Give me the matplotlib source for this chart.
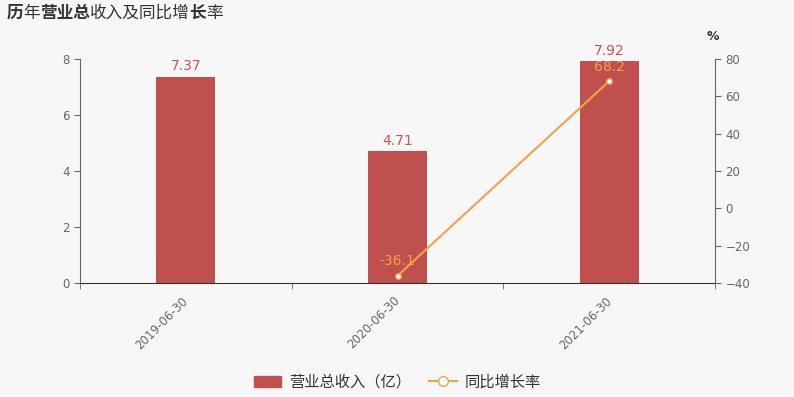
import matplotlib.pyplot as plt
import numpy as np
from matplotlib.patches import Patch
from matplotlib.lines import Line2D

plt.rcParams['font.family'] = ['Noto Sans CJK SC', 'DejaVu Sans']

dates = ['2019-06-30', '2020-06-30', '2021-06-30']
revenue = [7.37, 4.71, 7.92]
growth = [None, -36.1, 68.2]

bar_color = '#c0504d'
line_color = '#f5a04a'
bg = '#f7f7f7'
grey = '#666666'
num_font = 'DejaVu Sans'

fig = plt.figure(figsize=(7.94, 3.97), dpi=100, facecolor=bg)
ax = fig.add_axes([0.1008, 0.287, 0.7997, 0.564], facecolor=bg)
x = np.arange(len(dates))

ax.bar(x, revenue, width=0.28, color=bar_color, zorder=2)
for xi, v in zip(x, revenue):
    ax.text(xi, v + 0.12, f'{v:.2f}', ha='center', va='bottom', color='#cc4f4f',
            fontsize=10, family=num_font)

ax.set_xlim(-0.5, 2.5)
ax.set_ylim(0, 8)
ax.set_yticks([0, 2, 4, 6, 8])
ax.set_xticks(x - 0.02)
ax.set_xticklabels(dates, rotation=45, ha='right', rotation_mode='anchor', fontsize=8.5,
                   color=grey, family=num_font)
ax.set_xticks([-0.5, 0.5, 1.5, 2.5], minor=True)
ax.tick_params(axis='x', which='major', length=0, pad=8)
ax.tick_params(axis='x', which='minor', length=4, color=grey)
ax.tick_params(axis='y', labelsize=8.5, colors=grey, length=4)
for lbl in ax.get_yticklabels():
    lbl.set_family(num_font)
for s in ['top', 'right']:
    ax.spines[s].set_visible(False)
ax.spines['left'].set_color(grey)
ax.spines['bottom'].set_color('#333333')

ax2 = ax.twinx()
gx = [xi for xi, g in zip(x, growth) if g is not None]
gy = [g for g in growth if g is not None]
ax2.plot(gx, gy, color=line_color, lw=1.5, marker='o', ms=4, mfc='white', mec=line_color, zorder=3)
for xi, g in zip(gx, gy):
    ax2.text(xi, g + 4, f'{g:.1f}', ha='center', va='bottom', color=line_color,
             fontsize=10, family=num_font)
ax2.set_ylim(-40, 80)
ax2.set_yticks([-40, -20, 0, 20, 40, 60, 80])
ax2.tick_params(axis='y', labelsize=8.5, colors=grey, length=4)
for lbl in ax2.get_yticklabels():
    lbl.set_family(num_font)
for s in ['top', 'left', 'bottom']:
    ax2.spines[s].set_visible(False)
ax2.spines['right'].set_color(grey)
fig.text(0.898, 0.9, '%', fontsize=9, color='#333333', ha='center', weight='bold', family=num_font)

# title, some characters heavier as in the original
parts = [('历', 'bold'), ('年', 'normal'), ('营业总', 'bold'), ('收入及同比增', 'normal'),
         ('长', 'bold'), ('率', 'normal')]
prev = fig.text(0.008, 0.955, parts[0][0], fontsize=12, weight=parts[0][1], color='#333333')
for txt, w in parts[1:]:
    prev = ax.annotate(txt, xy=(1, 0), xycoords=prev, fontsize=12, weight=w,
                       color='#333333', va='bottom', ha='left', annotation_clip=False)

handles = [Patch(color=bar_color, label='营业总收入（亿）'),
           Line2D([0], [0], color=line_color, marker='o', mfc='white', ms=7, lw=1.5, label='同比增长率')]
fig.legend(handles=handles, loc='center', bbox_to_anchor=(0.5, 0.037), ncol=2, frameon=False,
           fontsize=11, labelcolor='#333333', handlelength=1.8, columnspacing=1.2, handletextpad=0.5)

fig.savefig('out.png', dpi=100, facecolor=bg)
